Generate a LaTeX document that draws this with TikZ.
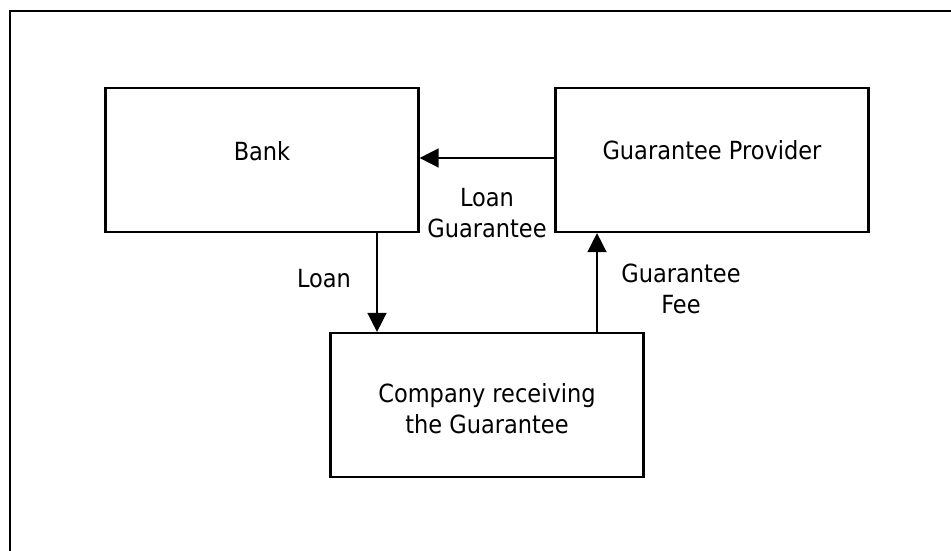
\documentclass[tikz,border=0pt]{standalone}
\usepackage{fontspec}
\setmainfont{DejaVu Sans Condensed}
\usetikzlibrary{arrows.meta}
\begin{document}
\begin{tikzpicture}[x=1pt,y=-1pt,
  box/.style={draw=black,line width=2.2pt,minimum width=313pt,minimum height=144pt,inner sep=0pt},
  lbl/.style={font=\fontsize{25pt}{31pt}\selectfont,align=center,inner sep=0pt},
  arr/.style={line width=1.5pt,-{Triangle[length=19pt,width=19pt]}}]
\useasboundingbox (0,0) rectangle (951,550);
\fill[white] (0,0) rectangle (951,550);
\begin{scope}
\clip (0,0) rectangle (951,550);
\draw[line width=2.8pt] (10,560) -- (10,11) -- (960,11);
\end{scope}
\node[box] (bank) at (262,160) {};
\node[box] (gp) at (712,160) {};
\node[box] (comp) at (487,405) {};
\node[lbl] (banktxt) at (262,151) {Bank};
\node[lbl] (gptxt) at (712,150) {Guarantee Provider};
\node[lbl] (comptxt) at (487,409) {Company receiving\\the Guarantee};
\draw[arr] (gp.west |- 0,158) -- (bank.east |- 0,158);
\draw[arr] (bank.south -| 377,0) -- (comp.north -| 377,0);
\draw[arr] (comp.north -| 597,0) -- (gp.south -| 597,0);
\node[lbl] (lg) at (487,213) {Loan\\Guarantee};
\node[lbl] (loan) at (324,279) {Loan};
\node[lbl] (fee) at (681,289) {Guarantee\\Fee};
\end{tikzpicture}
\end{document}
